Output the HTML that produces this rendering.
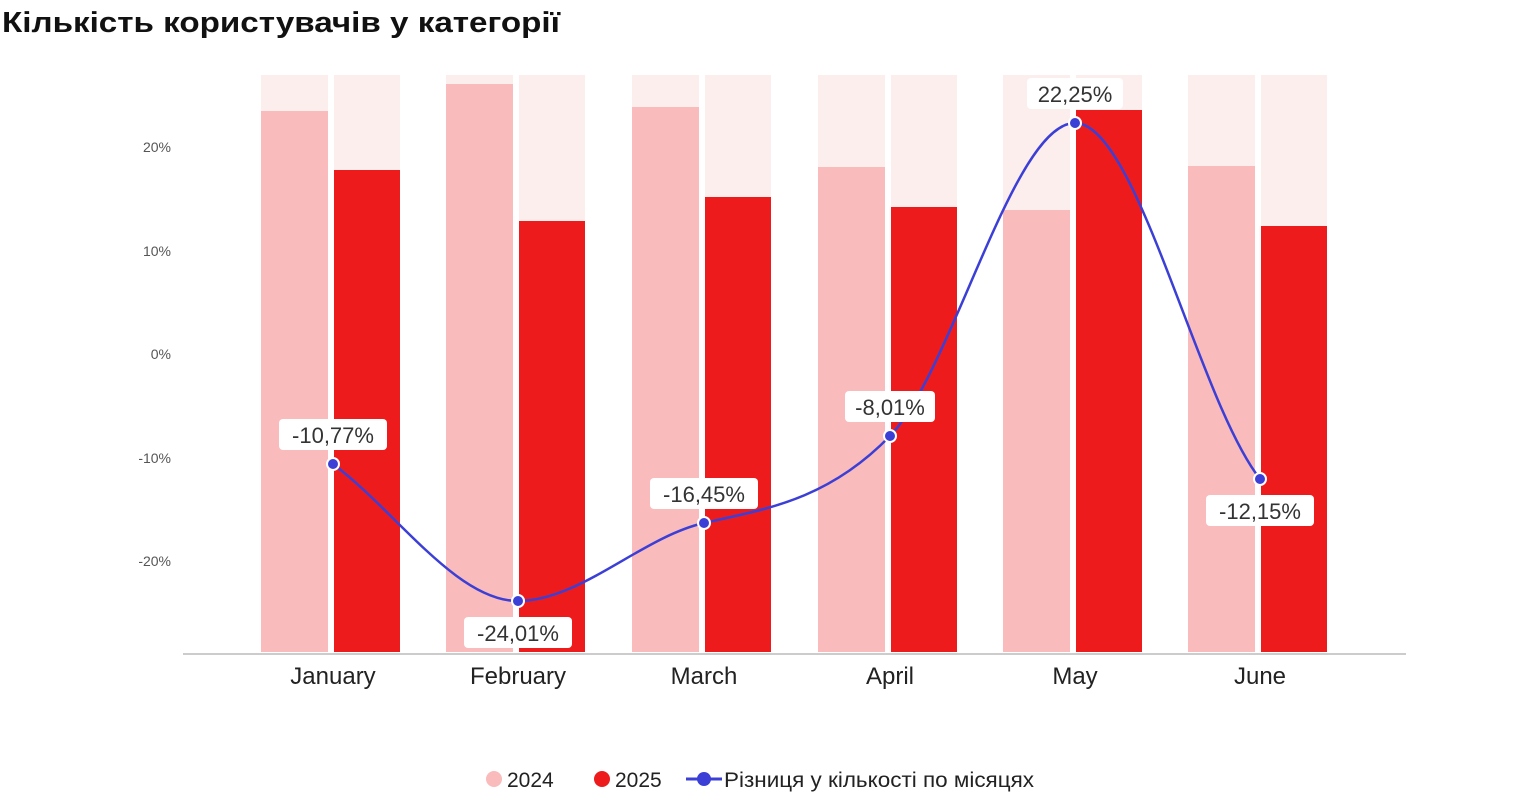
<!DOCTYPE html>
<html><head><meta charset="utf-8"><style>
body{margin:0;background:#fff;width:1538px;height:800px;overflow:hidden;font-family:"Liberation Sans",sans-serif}
</style></head><body>
<svg width="1538" height="800" xmlns="http://www.w3.org/2000/svg" font-family="Liberation Sans, sans-serif">
<text x="2" y="32" font-size="29" font-weight="bold" fill="#111" textLength="558" lengthAdjust="spacingAndGlyphs">Кількість користувачів у категорії</text>
<g font-size="14" fill="#555" text-anchor="end">
<text x="171" y="152">20%</text><text x="171" y="256">10%</text><text x="171" y="359">0%</text><text x="171" y="463">-10%</text><text x="171" y="566">-20%</text>
</g>
<g>
<g fill="#fdeeee">
<rect x="261" y="75" width="67" height="577"/><rect x="334" y="75" width="66" height="577"/>
<rect x="446" y="75" width="67" height="577"/><rect x="519" y="75" width="66" height="577"/>
<rect x="632" y="75" width="67" height="577"/><rect x="705" y="75" width="66" height="577"/>
<rect x="818" y="75" width="67" height="577"/><rect x="891" y="75" width="66" height="577"/>
<rect x="1003" y="75" width="67" height="577"/><rect x="1076" y="75" width="66" height="577"/>
<rect x="1188" y="75" width="67" height="577"/><rect x="1261" y="75" width="66" height="577"/>
</g>
<g fill="#f9bbbb">
<rect x="261" y="111" width="67" height="541"/><rect x="446" y="84" width="67" height="568"/>
<rect x="632" y="107" width="67" height="545"/><rect x="818" y="167" width="67" height="485"/>
<rect x="1003" y="210" width="67" height="442"/><rect x="1188" y="166" width="67" height="486"/>
</g>
<g fill="#ee1b1d">
<rect x="334" y="170" width="66" height="482"/><rect x="519" y="221" width="66" height="431"/>
<rect x="705" y="197" width="66" height="455"/><rect x="891" y="207" width="66" height="445"/>
<rect x="1076" y="110" width="66" height="542"/><rect x="1261" y="226" width="66" height="426"/>
</g>
</g>
<line x1="183" y1="654" x2="1406" y2="654" stroke="#ccc" stroke-width="2"/>
<g font-size="24" fill="#222" text-anchor="middle">
<text x="333" y="684">January</text><text x="518" y="684">February</text><text x="704" y="684">March</text><text x="890" y="684">April</text><text x="1075" y="684">May</text><text x="1260" y="684">June</text>
</g>
<path d="M333,464 C395,510 456,601 518,601 C580,601 642,537 704,523 C766,509 828,500 890,436 C952,372 1013,123 1075,123 C1137,123 1198,400 1260,479" fill="none" stroke="#3b3fd6" stroke-width="2.5"/>
<g fill="#3b3fd6" stroke="#fff" stroke-width="2">
<circle cx="333" cy="464" r="6"/><circle cx="518" cy="601" r="6"/><circle cx="704" cy="523" r="6"/><circle cx="890" cy="436" r="6"/><circle cx="1075" cy="123" r="6"/><circle cx="1260" cy="479" r="6"/>
</g>
<g font-size="22" fill="#333" text-anchor="middle">
<rect x="279" y="419" width="108" height="31" rx="4" fill="#fff"/><text x="333" y="443">-10,77%</text>
<rect x="464" y="617" width="108" height="31" rx="4" fill="#fff"/><text x="518" y="641">-24,01%</text>
<rect x="650" y="478" width="108" height="31" rx="4" fill="#fff"/><text x="704" y="502">-16,45%</text>
<rect x="845" y="391" width="90" height="31" rx="4" fill="#fff"/><text x="890" y="415">-8,01%</text>
<rect x="1027" y="78" width="96" height="31" rx="4" fill="#fff"/><text x="1075" y="102">22,25%</text>
<rect x="1206" y="495" width="108" height="31" rx="4" fill="#fff"/><text x="1260" y="519">-12,15%</text>
</g>
<g font-size="21" fill="#222">
<circle cx="494" cy="779" r="8" fill="#f9bbbb"/><text x="507" y="787">2024</text>
<circle cx="602" cy="779" r="8" fill="#ee1b1d"/><text x="615" y="787">2025</text>
<line x1="686" y1="779" x2="722" y2="779" stroke="#3b3fd6" stroke-width="3"/>
<circle cx="704" cy="779" r="7" fill="#3b3fd6"/><text x="724" y="787" textLength="310" lengthAdjust="spacingAndGlyphs">Різниця у кількості по місяцях</text>
</g>
</svg>
</body></html>
